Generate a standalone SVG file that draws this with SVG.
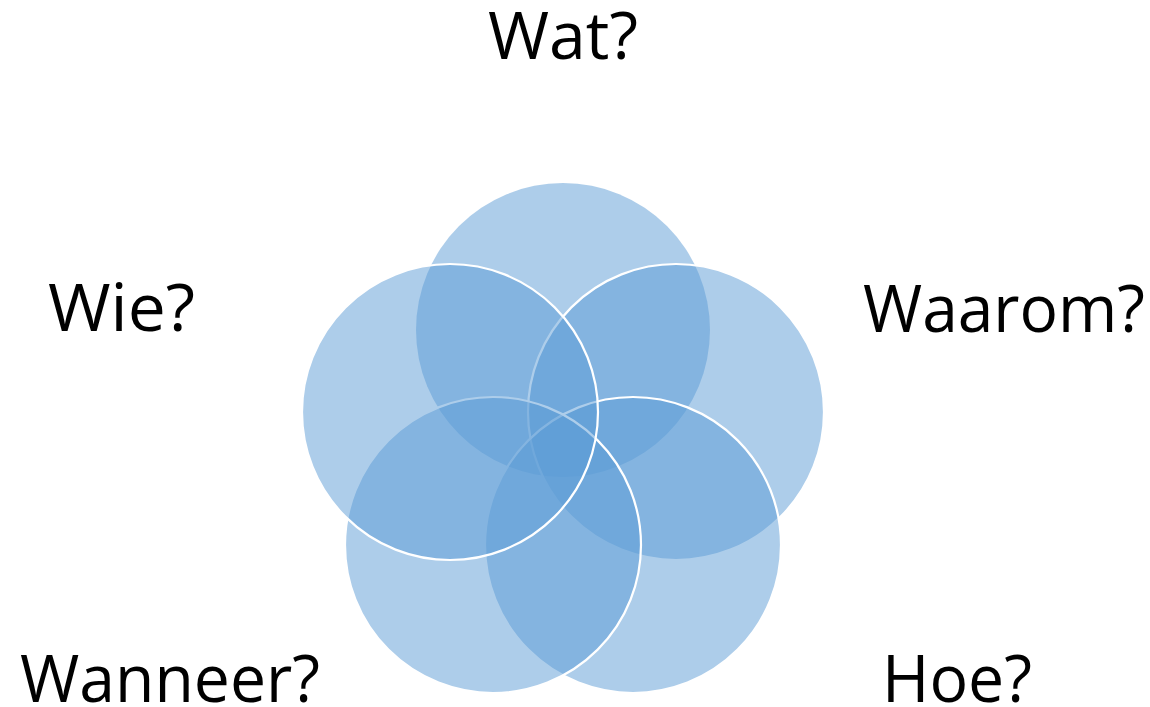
<svg xmlns="http://www.w3.org/2000/svg" width="1150" height="707" viewBox="0 0 1150 707">
<style>
.c{fill:#5B9BD5;fill-opacity:0.5;stroke:#FFFFFF;stroke-width:2.2}
.t{font-family:"Open Sans","Liberation Sans",sans-serif;font-size:65px;fill:#000000}
</style>
<rect width="1150" height="707" fill="#FFFFFF"/>
<g id="wat"><circle cx="563" cy="330" r="147" class="c" style="stroke:none"/></g>
<g id="waarom"><circle cx="676" cy="412" r="148" class="c"/></g>
<g id="hoe"><circle cx="633" cy="545" r="148" class="c"/></g>
<g id="wanneer"><circle cx="493" cy="545" r="148" class="c"/></g>
<g id="wie"><circle cx="450" cy="412" r="148" class="c"/></g>
<g id="labels">
<text class="t" x="488" y="59" textLength="150" lengthAdjust="spacingAndGlyphs">Wat?</text>
<text class="t" x="863" y="332" textLength="282" lengthAdjust="spacingAndGlyphs">Waarom?</text>
<text class="t" x="48" y="331" textLength="147" lengthAdjust="spacingAndGlyphs">Wie?</text>
<text class="t" x="20" y="702" textLength="300" lengthAdjust="spacingAndGlyphs">Wanneer?</text>
<text class="t" x="882" y="702" textLength="150" lengthAdjust="spacingAndGlyphs">Hoe?</text>
</g>
<g id="connectors"/>
</svg>
